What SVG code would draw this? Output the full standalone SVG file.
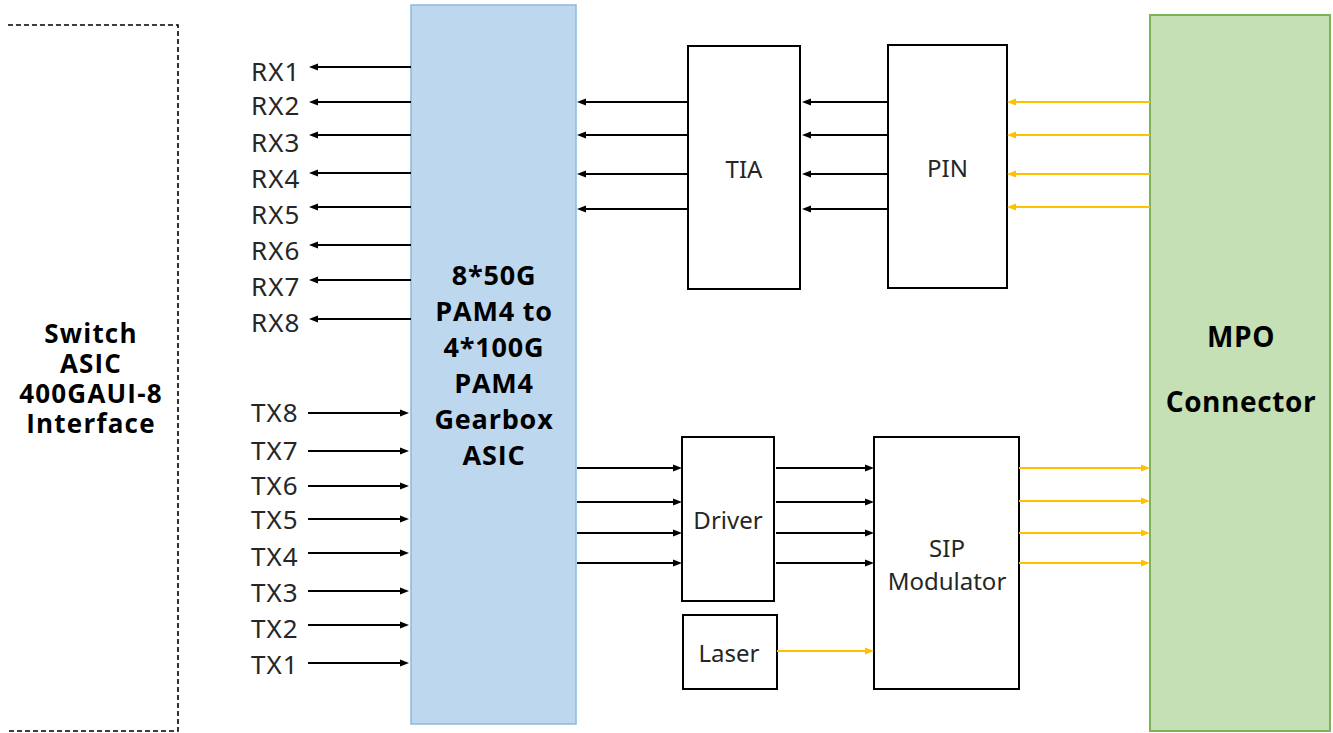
<svg xmlns="http://www.w3.org/2000/svg" width="1333" height="733" viewBox="0 0 1333 733">
<style>
.lbl{font-family:"Noto Sans","Liberation Sans",sans-serif;font-size:24px;fill:#262626}
.io{font-size:26px;letter-spacing:1px}
.bold{font-family:"Open Sans","Liberation Sans",sans-serif;font-weight:bold;font-size:27px;fill:#000;text-anchor:middle}
.sw{font-size:26px;letter-spacing:1.2px}
.gb{font-size:27px;letter-spacing:0.8px}
.box{fill:#fff;stroke:#000;stroke-width:2}
.blk{stroke:#000;stroke-width:2;fill:none;marker-end:url(#ab)}
.yel{stroke:#FFC000;stroke-width:2;fill:none;marker-end:url(#ay)}
.mid{text-anchor:middle}
</style>
<defs>
<marker id="ab" markerUnits="userSpaceOnUse" markerWidth="10" markerHeight="8" refX="3" refY="4" orient="auto"><path d="M0,0.5 L9,4 L0,7.5 z" fill="#000"/></marker>
<marker id="ay" markerUnits="userSpaceOnUse" markerWidth="10" markerHeight="8" refX="3" refY="4" orient="auto"><path d="M0,0.5 L9,4 L0,7.5 z" fill="#FFC000"/></marker>
</defs>

<g id="switch">
<path d="M8,25 H178 V731 H8" fill="none" stroke="#000" stroke-width="1.6" stroke-dasharray="5,3"/>
<text class="bold sw" x="91" y="343">Switch</text>
<text class="bold sw" x="91" y="373">ASIC</text>
<text class="bold sw" x="91" y="403">400GAUI-8</text>
<text class="bold sw" x="91" y="433">Interface</text>
</g>

<g id="labels">
<text class="lbl io" x="251" y="81">RX1</text>
<text class="lbl io" x="251" y="115">RX2</text>
<text class="lbl io" x="251" y="152">RX3</text>
<text class="lbl io" x="251" y="188">RX4</text>
<text class="lbl io" x="251" y="224">RX5</text>
<text class="lbl io" x="251" y="260">RX6</text>
<text class="lbl io" x="251" y="296">RX7</text>
<text class="lbl io" x="251" y="332">RX8</text>
<text class="lbl io" x="251" y="422">TX8</text>
<text class="lbl io" x="251" y="460">TX7</text>
<text class="lbl io" x="251" y="495">TX6</text>
<text class="lbl io" x="251" y="529">TX5</text>
<text class="lbl io" x="251" y="566">TX4</text>
<text class="lbl io" x="251" y="602">TX3</text>
<text class="lbl io" x="251" y="638">TX2</text>
<text class="lbl io" x="251" y="674">TX1</text>
</g>

<g id="gearbox">
<rect x="411" y="5" width="165" height="719" fill="#BDD7EE" stroke="#8FB8E0" stroke-width="1.5"/>
<text class="bold gb" x="494" y="285">8*50G</text>
<text class="bold gb" x="494" y="321">PAM4 to</text>
<text class="bold gb" x="494" y="357">4*100G</text>
<text class="bold gb" x="494" y="393">PAM4</text>
<text class="bold gb" x="494" y="429">Gearbox</text>
<text class="bold gb" x="494" y="465">ASIC</text>
</g>

<g id="tia">
<rect class="box" x="688" y="46" width="112" height="243"/>
<text class="lbl mid" x="744" y="178">TIA</text>
</g>

<g id="pin">
<rect class="box" x="888" y="45" width="119" height="243"/>
<text class="lbl mid" x="947.5" y="177">PIN</text>
</g>

<g id="driver">
<rect class="box" x="682" y="437" width="92" height="164"/>
<text class="lbl mid" x="728" y="529">Driver</text>
</g>

<g id="laser">
<rect class="box" x="683" y="615" width="94" height="74"/>
<text class="lbl mid" x="729" y="662">Laser</text>
</g>

<g id="sip">
<rect class="box" x="874" y="437" width="145" height="252"/>
<text class="lbl mid" x="947" y="557">SIP</text>
<text class="lbl mid" x="947" y="590">Modulator</text>
</g>

<g id="mpo">
<rect x="1150" y="15" width="180" height="716" fill="#C5E0B4" stroke="#7DB356" stroke-width="2"/>
<text class="bold" x="1241" y="347" style="font-size:28px;letter-spacing:0.6px">MPO</text>
<text class="bold" x="1241" y="412" style="font-size:28px;letter-spacing:0.6px">Connector</text>
</g>

<g id="connectors">
<line class="blk" x1="411" y1="67" x2="315" y2="67"/>
<line class="blk" x1="411" y1="102" x2="315" y2="102"/>
<line class="blk" x1="411" y1="135" x2="315" y2="135"/>
<line class="blk" x1="411" y1="173" x2="315" y2="173"/>
<line class="blk" x1="411" y1="207" x2="315" y2="207"/>
<line class="blk" x1="411" y1="245" x2="315" y2="245"/>
<line class="blk" x1="411" y1="280" x2="315" y2="280"/>
<line class="blk" x1="411" y1="319" x2="315" y2="319"/>

<line class="blk" x1="308" y1="413" x2="403" y2="413"/>
<line class="blk" x1="308" y1="451" x2="403" y2="451"/>
<line class="blk" x1="308" y1="486" x2="403" y2="486"/>
<line class="blk" x1="308" y1="519" x2="403" y2="519"/>
<line class="blk" x1="308" y1="553" x2="403" y2="553"/>
<line class="blk" x1="308" y1="591" x2="403" y2="591"/>
<line class="blk" x1="308" y1="625" x2="403" y2="625"/>
<line class="blk" x1="308" y1="663" x2="403" y2="663"/>

<line class="blk" x1="688" y1="102" x2="583" y2="102"/>
<line class="blk" x1="688" y1="135" x2="583" y2="135"/>
<line class="blk" x1="688" y1="174" x2="583" y2="174"/>
<line class="blk" x1="688" y1="209" x2="583" y2="209"/>

<line class="blk" x1="888" y1="102" x2="808" y2="102"/>
<line class="blk" x1="888" y1="135" x2="808" y2="135"/>
<line class="blk" x1="888" y1="174" x2="808" y2="174"/>
<line class="blk" x1="888" y1="209" x2="808" y2="209"/>

<line class="yel" x1="1150" y1="102" x2="1013" y2="102"/>
<line class="yel" x1="1150" y1="135" x2="1013" y2="135"/>
<line class="yel" x1="1150" y1="174" x2="1013" y2="174"/>
<line class="yel" x1="1150" y1="207" x2="1013" y2="207"/>

<line class="blk" x1="577" y1="468" x2="676" y2="468"/>
<line class="blk" x1="577" y1="502" x2="676" y2="502"/>
<line class="blk" x1="577" y1="533" x2="676" y2="533"/>
<line class="blk" x1="577" y1="563" x2="676" y2="563"/>

<line class="blk" x1="776" y1="468" x2="868" y2="468"/>
<line class="blk" x1="776" y1="502" x2="868" y2="502"/>
<line class="blk" x1="776" y1="533" x2="868" y2="533"/>
<line class="blk" x1="776" y1="563" x2="868" y2="563"/>

<line class="yel" x1="777" y1="651" x2="868" y2="651"/>

<line class="yel" x1="1019" y1="468" x2="1144" y2="468"/>
<line class="yel" x1="1019" y1="501" x2="1144" y2="501"/>
<line class="yel" x1="1019" y1="533" x2="1144" y2="533"/>
<line class="yel" x1="1019" y1="563" x2="1144" y2="563"/>
</g>
</svg>
